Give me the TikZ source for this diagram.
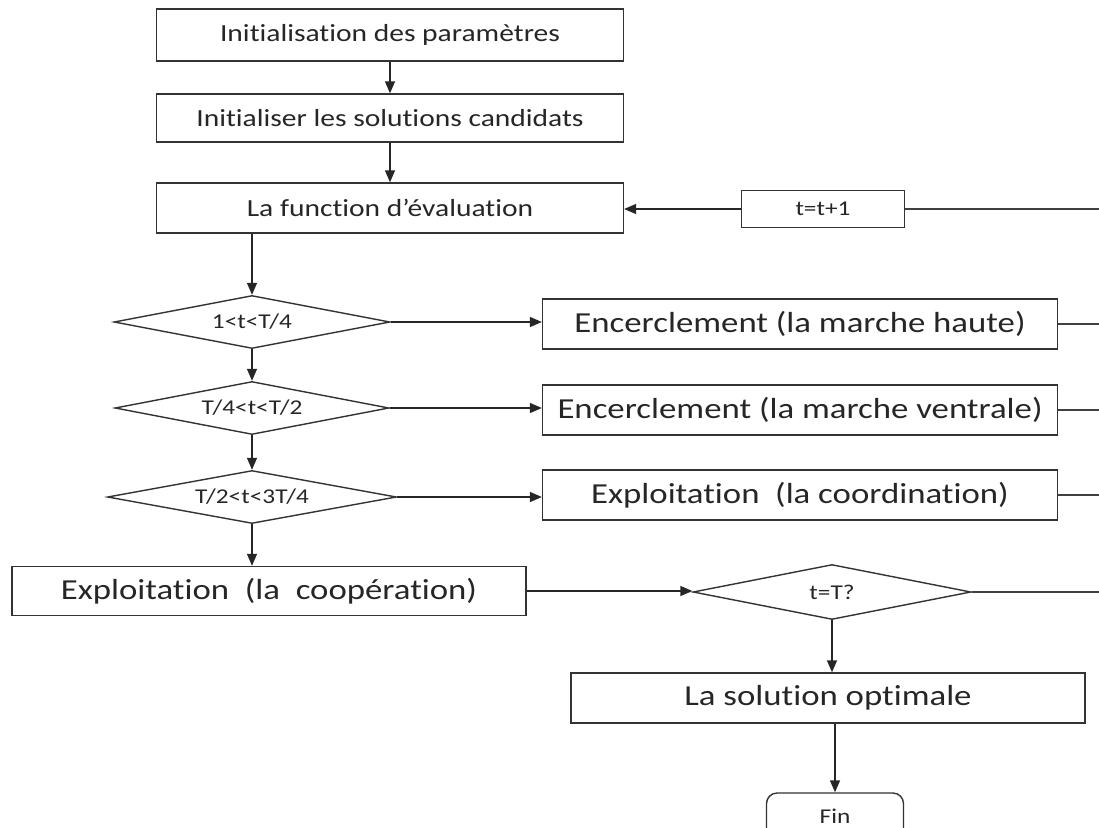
\documentclass[tikz,border=0pt]{standalone}
\usepackage{fontspec}
\setmainfont{Carlito}[FakeStretch=1.2, Ligatures=NoCommon]
\usetikzlibrary{arrows.meta,shapes.geometric}

\begin{document}
\begin{tikzpicture}[
    x=0.02cm, y=-0.02cm,
    >={Triangle[length=2.4mm,width=2mm]},
    every node/.style={font=\rmfamily, text=black!85},
    % boîtes de traitement
    proc/.style={
        draw=black!80, line width=0.8pt, inner sep=0pt,
        minimum width=9.34cm, minimum height=1cm,
        font=\rmfamily\fontsize{14}{16}\selectfont
    },
    % grandes boîtes
    big/.style={
        proc, minimum width=10.3cm,
        font=\rmfamily\fontsize{16.5}{19}\selectfont
    },
    % petites boîtes
    small/.style={
        proc, minimum width=3.26cm, minimum height=0.74cm,
        font=\rmfamily\fontsize{12}{14}\selectfont
    },
    % tests
    test/.style={
        diamond, draw=black!80, line width=0.8pt, inner sep=0pt,
        shape aspect=5, minimum height=1.06cm,
        font=\rmfamily\fontsize{12}{14}\selectfont
    },
    % liaisons
    flow/.style={->, line width=0.8pt, black!85},
    back/.style={-, line width=0.8pt, black!75},
]

\useasboundingbox (0,0) rectangle (1099,828);
\coordinate (edge) at (1099,0);  % bord droit (retour de boucle)

%% ── initialisation ──────────────────────────────────
\node[proc, minimum height=1.04cm] (init) at (390, 35) {Initialisation des paramètres};
\node[proc, minimum height=0.96cm] (cand) at (390,118) {Initialiser les solutions candidats};
\node[proc]                        (eval) at (390,208) {La function d’évaluation};
\node[small]                       (incr) at (823,209) {t=t+1};

%% ── tests sur t ─────────────────────────────────────
\node[test, minimum width=5.52cm] (q1) at (252,322) {1<t<T/4};
\node[test, minimum width=5.48cm] (q2) at (252,408) {T/4<t<T/2};
\node[test, minimum width=5.78cm] (q3) at (252,497) {T/2<t<3T/4};

%% ── phases ──────────────────────────────────────────
\node[big] (haute) at (800,324) {Encerclement\ (la marche haute)};
\node[big] (ventr) at (800,410) {Encerclement\ (la marche ventrale)};
\node[big] (coord) at (800,495) {Exploitation\ \ (la coordination)};
\node[big, minimum width=10.28cm, minimum height=0.98cm] (coop) at (269,591)
    {Exploitation\ \ (la\ \ coopération)};

%% ── fin ─────────────────────────────────────────────
\node[test, minimum width=5.56cm, minimum height=1.1cm] (stop) at (832,592) {t=T?};
\node[big, minimum width=10.28cm] (best) at (828,698) {La solution optimale};
\node[small, rounded corners=6pt, minimum width=2.74cm, minimum height=0.92cm]
    (fin) at (835,816) {Fin};

%% ── liaisons ────────────────────────────────────────
\draw[flow] (init) -- (cand);
\draw[flow] (cand) -- (eval);
\draw[flow] (incr.west) -- (incr.west -| eval.east);
\draw[back] (incr.east) -- (incr.east -| edge);
\draw[flow] (q1.north |- eval.south) -- (q1.north);
\draw[flow] (q1.south) -- (q2.north);
\draw[flow] (q2.south) -- (q3.north);
\draw[flow] (q3.south) -- (q3.south |- coop.north);

\foreach \q/\p in {q1/haute, q2/ventr, q3/coord}{
    \draw[flow] (\q.east) -- (\q.east -| \p.west);
    \draw[back] (\p.east) -- (\p.east -| edge);
}

\draw[flow] (coop.east) -- (coop.east -| stop.west);
\draw[back] (stop.east) -- (stop.east -| edge);
\draw[flow] (stop.south) -- (stop.south |- best.north);
\draw[flow] (fin.north |- best.south) -- (fin.north);

\end{tikzpicture}
\end{document}
